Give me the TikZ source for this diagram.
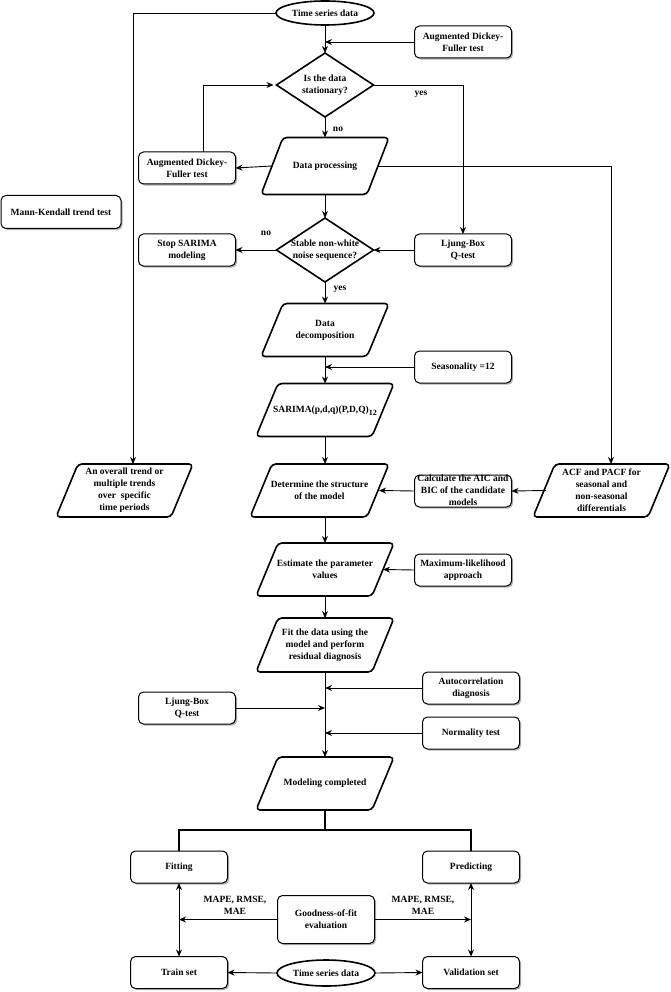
\documentclass[tikz,border=0pt]{standalone}
\usepackage{fontspec}
\setmainfont{Liberation Serif}
\usetikzlibrary{shapes.geometric,arrows.meta,shadows,calc}
\newlength\paraslant
\setlength\paraslant{22pt}
\newcommand{\ovtext}[1]{\smash{\makebox[0pt]{\raisebox{-0.25em}{\begin{tabular}{@{}c@{}}#1\end{tabular}}}}}
\newcommand{\paranode}[6]{%
  \node[paratext, minimum width=#4, minimum height=#5] (#1) at (#2,#3) {#6};
  \draw[paraline] (#1.south west) -- ([xshift=-\paraslant]#1.south east) -- (#1.north east) -- ([xshift=\paraslant]#1.north west) -- cycle;}
\tikzset{
 base/.style={font=\bfseries\fontsize{9.5}{12}\selectfont, align=center, inner sep=0pt, outer sep=0pt},
 box/.style={base, rectangle, rounded corners=5pt, draw=black, line width=1pt, fill=white, minimum width=97pt, minimum height=32pt, drop shadow={shadow xshift=1.6pt, shadow yshift=-1.6pt, opacity=0.3, fill=black}},
 paratext/.style={base, rectangle},
 paraline/.style={line width=1.6pt, rounded corners=4pt, line join=round},
 dec/.style={base, diamond, draw, line width=1.6pt, minimum width=97pt, minimum height=64pt},
 term/.style={base, ellipse, draw, line width=1.6pt, minimum width=98pt, minimum height=24pt},
 conn/.style={line width=0.9pt, -{Stealth[length=7pt,width=6pt]}},
 dconn/.style={line width=0.9pt, {Stealth[length=7pt,width=6pt]}-{Stealth[length=7pt,width=6pt]}},
 plain/.style={line width=0.9pt},
 branch/.style={line width=1.6pt},
 lbl/.style={base},
}
\begin{document}
\begin{tikzpicture}[x=1pt,y=-1pt]
\useasboundingbox (0,0) rectangle (671,992);
% nodes
\node[term] (ts1) at (325,13) {Time series data};
\node[box] (adf1) at (463,42) {Augmented Dickey-\\Fuller test};
\node[dec] (d1) at (325,85) {\ovtext{Is the data\\stationary?}};
\paranode{dp}{325}{166}{128pt}{57pt}{Data processing}
\node[box] (adf2) at (187,168) {Augmented Dickey-\\Fuller test};
\node[box, minimum width=120pt, minimum height=33pt] (mk) at (61,212) {Mann-Kendall trend test};
\node[dec] (d2) at (325,250) {\ovtext{Stable non-white\\noise sequence?}};
\node[box] (stop) at (187,250) {Stop SARIMA\\modeling};
\node[box] (ljb1) at (463,250) {Ljung-Box\\Q-test};
\paranode{ddec}{325}{330}{128pt}{53pt}{Data\\decomposition}
\node[box] (seas) at (463,367) {Seasonality =12};
\paranode{sar}{325}{410}{138pt}{53pt}{\ovtext{SARIMA(p,d,q)(P,D,Q)\raisebox{-3pt}{\fontsize{8}{8}\selectfont 12}}}
\paranode{det}{319.5}{490.5}{139pt}{53pt}{Determine the structure\\of the model}
\node[box] (aic) at (463,491) {\ovtext{Calculate the AIC and\\BIC of the candidate\\models}};
\paranode{acf}{601.5}{490.5}{137pt}{53pt}{ACF and PACF for\\seasonal and\\non-seasonal\\differentials}
\paranode{trend}{124.5}{490.5}{137pt}{53pt}{An overall trend or\\multiple trends\\over\ \ specific\\time periods}
\paranode{est}{325}{569.5}{138pt}{53pt}{Estimate the parameter\\values}
\node[box] (ml) at (463,570) {Maximum-likelihood\\approach};
\paranode{fit}{325}{645}{138pt}{54pt}{Fit the data using the\\model and perform\\residual diagnosis}
\node[box] (ac) at (471,688) {Autocorrelation\\diagnosis};
\node[box] (ljb2) at (187,708) {Ljung-Box\\Q-test};
\node[box] (nt) at (471,733) {Normality test};
\paranode{mc}{325}{783.5}{138pt}{53pt}{Modeling completed}
\node[box] (fitg) at (179,867) {Fitting};
\node[box] (pred) at (471,867) {Predicting};
\node[box, minimum height=48pt] (gof) at (326,919.5) {Goodness-of-fit\\evaluation};
\node[box] (train) at (179,972.5) {Train set};
\node[box] (val) at (471,972.5) {Validation set};
\node[term, minimum height=26pt] (ts2) at (326,973) {Time series data};
% labels
\node[lbl] (yes1) at (421,94) {yes};
\node[lbl] (no1) at (338,129) {no};
\node[lbl] (no2) at (266,233) {no};
\node[lbl] (yes2) at (340,289) {yes};
\node[lbl] (m1) at (235,905.5) {MAPE, RMSE,\\MAE};
\node[lbl] (m2) at (423,905.5) {MAPE, RMSE,\\MAE};
% connectors
\draw[conn] (ts1.west) -| ([xshift=8.5pt]trend.north);
\draw[conn] (ts1.south) -- (d1.north);
\draw[conn] (adf1.west) -- (adf1.west -| ts1.south);
\draw[conn] (d1.east) -| (ljb1.north);
\draw[conn] (d1.south) -- (dp.north);
\draw[conn] ([xshift=11pt]dp.west) -- (adf2.east);
\draw[conn] ([xshift=16pt]adf2.north) |- ([xshift=-3pt]d1.west);
\draw[conn] ([xshift=-11pt]dp.east) -| ([xshift=9.5pt]acf.north);
\draw[conn] (dp.south) -- (d2.north);
\draw[conn] (d2.west) -- (stop.east);
\draw[conn] (ljb1.west) -- (d2.east);
\draw[conn] (d2.south) -- (ddec.north);
\draw[conn] (ddec.south) -- (sar.north);
\draw[conn] (seas.west) -- (seas.west -| sar.north);
\draw[conn] (sar.south) -- (sar.south |- det.north);
\draw[conn] (aic.west) -- ([xshift=-10pt]det.east);
\draw[conn] ([xshift=13pt]acf.west) -- (aic.east);
\draw[conn] (est.north |- det.south) -- (est.north);
\draw[conn] (ml.west) -- ([xshift=-11pt]est.east);
\draw[conn] (est.south) -- (fit.north);
\draw[conn] (fit.south) -- (mc.north);
\draw[conn] (ac.west) -- (ac.west -| fit.south);
\draw[conn] (ljb2.east) -- (ljb2.east -| fit.south);
\draw[conn] (nt.west) -- (nt.west -| fit.south);
\coordinate (split) at (325,830);
\draw[branch] (mc.south) -- (split);
\draw[branch] (fitg.north) |- (split) -| (pred.north);
\draw[dconn] (fitg.south) -- (train.north);
\draw[dconn] (pred.south) -- (val.north);
\draw[conn] (gof.west) -- (gof.west -| fitg.south);
\draw[conn] (gof.east) -- (gof.east -| pred.south);
\draw[conn] (ts2.west) -- (train.east);
\draw[conn] (ts2.east) -- (val.west);
\end{tikzpicture}
\end{document}
